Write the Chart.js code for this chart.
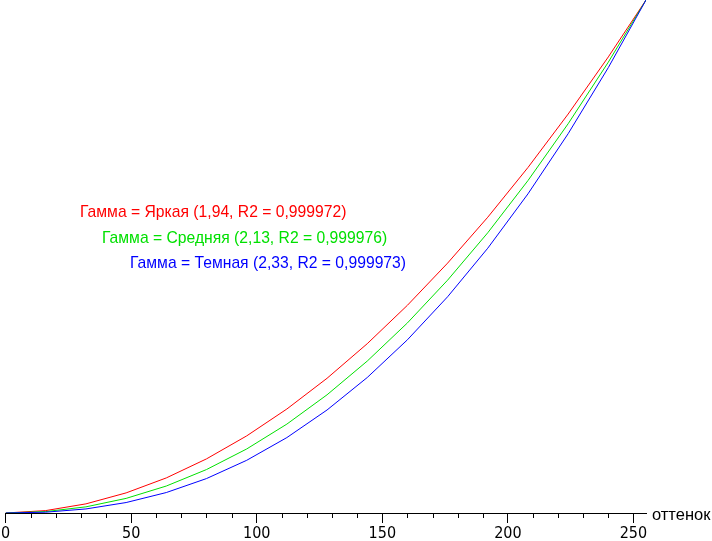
<!DOCTYPE html>
<html><head><meta charset="utf-8">
<script src="https://cdn.jsdelivr.net/npm/chart.js@4"></script>
<style>html,body{margin:0;padding:0;background:#fff;}#wrap{width:712px;height:541px;position:relative;overflow:hidden;}</style>
</head><body><div id="wrap"><canvas id="c" width="712" height="541"></canvas></div>
<script>
const levels = [0,16,32,48,64,80,96,112,128,144,160,176,192,208,224,240,255];
const bright = [0,0.0047,0.0178,0.0392,0.0684,0.1055,0.1503,0.2027,0.2626,0.3300,0.4049,0.4871,0.5766,0.6735,0.7777,0.8891,1];
const medium = [0,0.0028,0.0120,0.0285,0.0526,0.0847,0.1248,0.1733,0.2304,0.2961,0.3705,0.4539,0.5463,0.6480,0.7588,0.8789,1];
const dark   = [0,0.0016,0.0079,0.0204,0.0399,0.0671,0.1027,0.1470,0.2008,0.2641,0.3376,0.4215,0.5162,0.6221,0.7394,0.8683,1];
const xTicks = [0,50,100,150,200,250];
const labels = ['Гамма = Яркая (1,94, R2 = 0,999972)','Гамма = Средняя (2,13, R2 = 0,999976)','Гамма = Темная (2,33, R2 = 0,999973)'];
const colors = ['#ff0000','#00e000','#0000ff'];
const axisTitle = 'оттенок';

const FONT = '15.7px "Liberation Sans", Arial, sans-serif';
const TITLEFONT = '16.5px "Liberation Sans", Arial, sans-serif';
const NARROW = '"Liberation Sans Narrow", "DejaVu Sans Condensed", "Liberation Sans", Arial, sans-serif';
const mk = (arr,i)=>({label:labels[i],data:levels.map((x,k)=>({x:x,y:arr[k]})),borderColor:colors[i],borderWidth:1,pointRadius:0,tension:0,fill:false});

const extras = {
  id:'extras',
  afterDraw(chart){
    const ctx = chart.ctx, xs = chart.scales.x, ca = chart.chartArea;
    ctx.save();
    ctx.strokeStyle = '#000'; ctx.lineWidth = 1;
    for(let v=0; v<=255; v+=10){
      if(v%50===0) continue;
      const px = Math.round(xs.getPixelForValue(v))+0.5;
      ctx.beginPath(); ctx.moveTo(px, ca.bottom); ctx.lineTo(px, ca.bottom+5); ctx.stroke();
    }
    ctx.font = TITLEFONT; ctx.textBaseline='middle'; ctx.textAlign='left';
    ctx.fillStyle='#000';
    ctx.fillText(axisTitle, ca.right+6, ca.bottom+2);
    ctx.font = FONT;
    ctx.textBaseline='alphabetic';
    const pos = [[80,217],[102,243],[130,268]];
    labels.forEach((t,i)=>{ctx.fillStyle=colors[i]; ctx.fillText(t,pos[i][0],pos[i][1]);});
    ctx.restore();
  }
};

new Chart(document.getElementById('c'),{
  type:'line',
  data:{datasets:[mk(dark,2),mk(medium,1),mk(bright,0)]},
  options:{
    responsive:false, animation:false, devicePixelRatio:1,
    layout:{padding:{left:4.5,right:66,top:0,bottom:0}},
    plugins:{legend:{display:false},tooltip:{enabled:false}},
    scales:{
      x:{type:'linear',min:0,max:255,
        afterBuildTicks(s){s.ticks = xTicks.map(v=>({value:v}));},
        afterFit(s){s.height = 28;},
        grid:{drawOnChartArea:false,tickLength:10,color:'#000',tickColor:'#000'},
        border:{display:true,color:'#000',width:1},
        ticks:{autoSkip:false,maxRotation:0,padding:1,color:'#000',font:{family:NARROW,size:16}}
      },
      y:{type:'linear',min:0,max:1,display:false}
    }
  },
  plugins:[extras]
});
</script></body></html>
